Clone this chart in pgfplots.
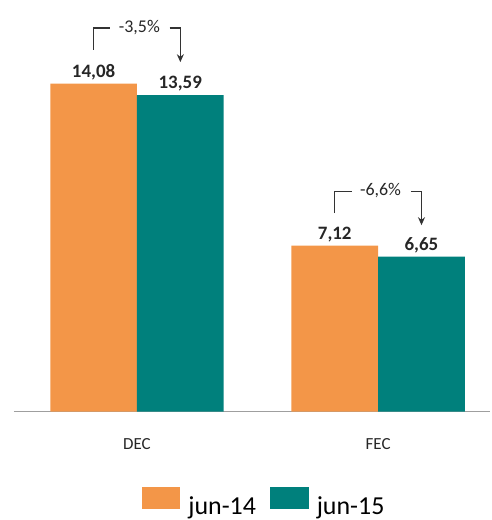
\documentclass[border=0pt]{standalone}
\usepackage{pgfplots}
\pgfplotsset{compat=1.18}
\usepackage{fontspec}
\setmainfont{Carlito}
\usetikzlibrary{arrows.meta}
\definecolor{orj}{RGB}{243,150,72}
\definecolor{tea}{RGB}{0,128,124}
\begin{document}
\begin{tikzpicture}
\begin{axis}[
    scale only axis,
    width=478pt, height=413pt,
    ybar=0pt, bar width=87pt,
    xmin=-0.51, xmax=1.465,
    ymin=0, ymax=17.67,
    axis x line*=bottom, hide y axis,
    axis line style={draw=gray!75, line width=2pt},
    xtick={0,1}, xticklabels={DEC,FEC},
    major tick length=0pt,
    xticklabel style={font=\fontsize{17}{20}\selectfont, yshift=-24pt, text=black!85},
    clip=false,
    nodes near coords,
    every node near coord/.append style={font=\bfseries\fontsize{19}{22}\selectfont, text=black!85,
        /pgf/number format/.cd, assume math mode=true, use comma, fixed, fixed zerofill, precision=2},
    legend style={draw=none, at={(axis description cs:0.525,0)}, anchor=north, yshift=-74pt,
        font=\fontsize{26}{30}\selectfont, legend columns=2,
        /tikz/every odd column/.append style={column sep=6pt},
        /tikz/every even column/.append style={column sep=12pt}},
    legend image code/.code={\fill[#1] (0pt,-3pt) rectangle (39pt,19pt);},
]
\addplot[fill=orj, draw=none] coordinates {(0,14.08) (1,7.12)};
\addplot[fill=tea, draw=none] coordinates {(0,13.59) (1,6.65)};
\legend{jun-14, jun-15}
% change brackets
\draw[line width=1.2pt, black!80] (axis cs:-0.18,15.53) |- (axis cs:-0.11,16.47);
\draw[line width=1.2pt, black!80, -{Stealth[length=8pt,width=7pt]}] (axis cs:0.136,16.47) -| (axis cs:0.18,15.0);
\node[font=\fontsize{18}{21}\selectfont, text=black!85] at (axis cs:0.01,16.5) {-3,5\%};
\draw[line width=1.2pt, black!80] (axis cs:0.82,8.52) |- (axis cs:0.89,9.46);
\draw[line width=1.2pt, black!80, -{Stealth[length=8pt,width=7pt]}] (axis cs:1.136,9.46) -| (axis cs:1.18,8.0);
\node[font=\fontsize{18}{21}\selectfont, text=black!85] at (axis cs:1.01,9.49) {-6,6\%};
\end{axis}
\path (current axis.south west) ++(-14pt,-107pt) (current axis.north east);
\end{tikzpicture}
\end{document}
